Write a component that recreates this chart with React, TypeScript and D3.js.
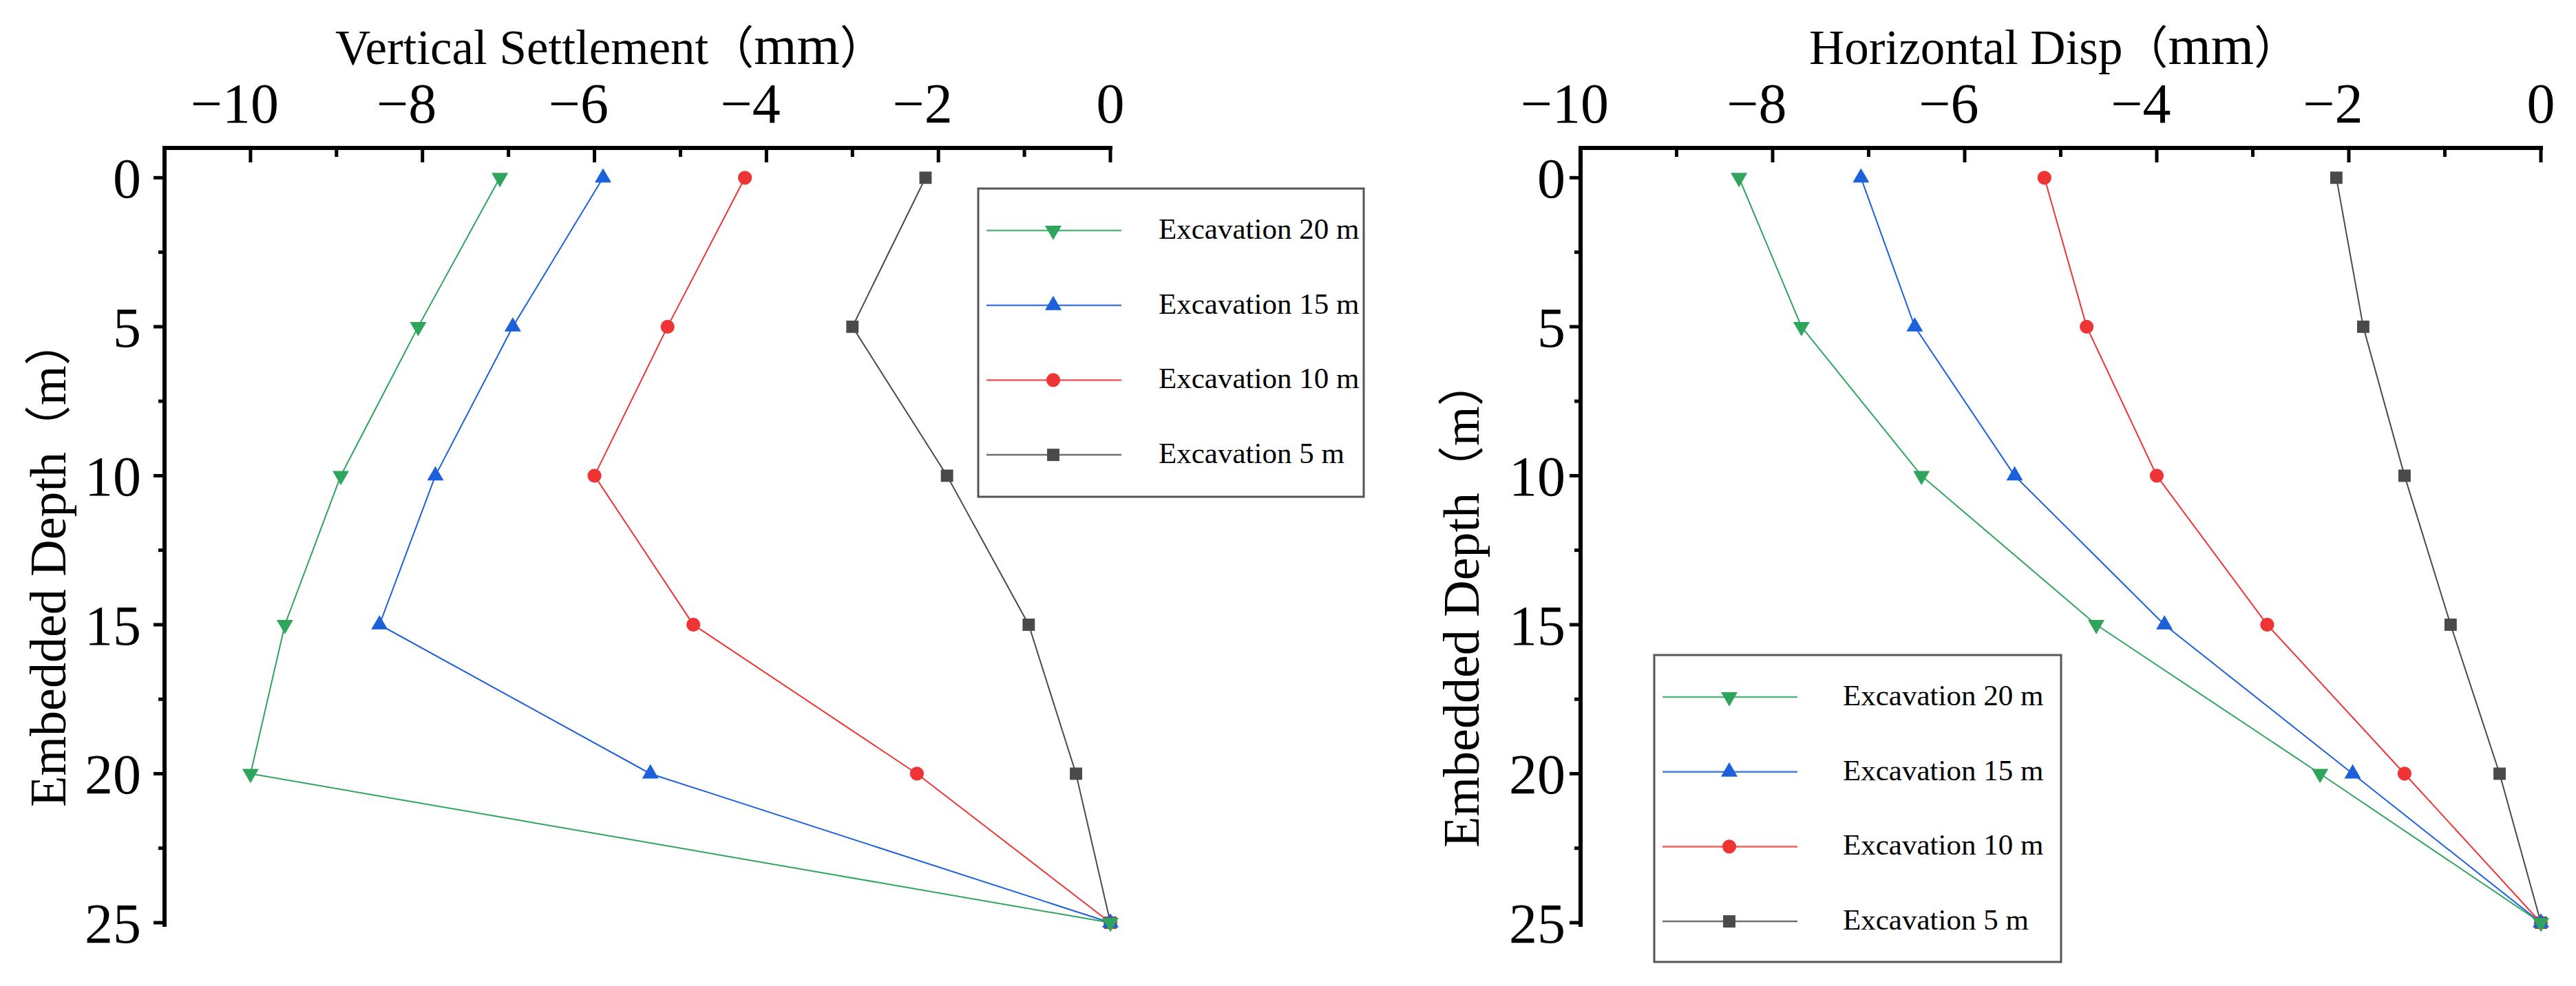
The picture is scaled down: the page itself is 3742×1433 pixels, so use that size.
import * as d3 from 'd3';
import React from 'react';

const depths = [0, 5, 10, 15, 20, 25];

// vertical settlement (mm)
const settle20 = [-7.1, -8.05, -8.95, -9.6, -10.0, 0];
const settle15 = [-5.9, -6.95, -7.85, -8.5, -5.35, 0];
const settle10 = [-4.25, -5.15, -6.0, -4.85, -2.25, 0];
const settle5 = [-2.15, -3.0, -1.9, -0.95, -0.4, 0];

// horizontal displacement (mm)
const disp20 = [-8.35, -7.7, -6.45, -4.63, -2.3, 0];
const disp15 = [-7.08, -6.52, -5.48, -3.92, -1.96, 0];
const disp10 = [-5.17, -4.73, -4.0, -2.85, -1.42, 0];
const disp5 = [-2.13, -1.85, -1.42, -0.94, -0.43, 0];

const seriesNames = ['Excavation 20 m', 'Excavation 15 m', 'Excavation 10 m', 'Excavation 5 m'];
const seriesColors = ['#2fa45c', '#1c60dc', '#ee3434', '#4a4a4a'];
const seriesShapes = ['down', 'up', 'circle', 'square'];

const yMajor = [0, 5, 10, 15, 20, 25];
const yMinor = [2.5, 7.5, 12.5, 17.5, 22.5];

const SERIF = '"Liberation Serif", "Times New Roman", serif';
const CJK = '"Noto Sans CJK SC", sans-serif';

const markerPath = (shape: string) => {
  if (shape === 'circle') return d3.symbol(d3.symbolCircle, 320)();
  if (shape === 'square') return d3.symbol(d3.symbolSquare, 320)();
  return d3.symbol(d3.symbolTriangle, 250)();
};

const Marker = ({ shape, x, y, color }: { shape: string; x: number; y: number; color: string }) => (
  <path
    d={markerPath(shape) || ''}
    transform={`translate(${x},${y})${shape === 'down' ? ' rotate(180)' : ''}`}
    fill={color}
  />
);

type PanelProps = {
  x0: number;
  x1: number;
  xDomain: [number, number];
  title: string;
  titleX: number;
  yTitleX: number;
  yTitleCy: number;
  yLabelGap: number;
  legendBox: [number, number, number, number];
  legendTextDx: number;
  values: number[][];
};

const Panel = ({
  x0,
  x1,
  xDomain,
  title,
  titleX,
  yTitleX,
  yTitleCy,
  yLabelGap,
  legendBox,
  legendTextDx,
  values,
}: PanelProps) => {
  const x = d3.scaleLinear().domain(xDomain).range([x0, x1]);
  const y = d3.scaleLinear().domain([-1, 25]).range([215, 1341]);
  const line = d3
    .line<number>()
    .x((d) => x(d))
    .y((_, i) => y(depths[i]));

  const xMajor = d3.range(-10, 0.1, 2);
  const xMinor = d3.range(Math.ceil(xDomain[0]) + 1, 0, 1).filter((v) => v % 2 !== 0);
  const tickFs = 82;

  const [lx0, ly0, lx1, ly1] = legendBox;
  const rowY = (i: number) => ly0 + 61 + i * 108.7;

  // draw the 5 m series first so that the 20 m series sits on top
  const order = [3, 2, 1, 0];

  return (
    <g>
      {/* axis title */}
      <text x={titleX} y={93} fontFamily={SERIF} fontSize={71} fill="#000">
        {title}
        <tspan fontFamily={CJK} fontSize={66}>（</tspan>
        <tspan fontSize={80}>mm</tspan>
        <tspan fontFamily={CJK} fontSize={66}>）</tspan>
      </text>
      <text
        transform={`translate(${yTitleX},${yTitleCy}) rotate(-90)`}
        textAnchor="middle"
        fontFamily={SERIF}
        fontSize={74}
        fill="#000"
      >
        Embedded Depth
        <tspan fontFamily={CJK} fontSize={68}>（</tspan>
        m
        <tspan fontFamily={CJK} fontSize={68}>）</tspan>
      </text>

      {/* top x axis */}
      <line x1={x0} x2={x1} y1={215} y2={215} stroke="#000" strokeWidth={6} strokeLinecap="square" />
      {xMajor.map((v) => (
        <g key={`xM${v}`}>
          <line x1={x(v)} x2={x(v)} y1={215} y2={236} stroke="#000" strokeWidth={5} />
          <text x={x(v)} y={178} textAnchor="middle" fontFamily={SERIF} fontSize={tickFs}>
            {Math.abs(v)}
          </text>
          {v < 0 && (
            <text
              x={x(v) - String(Math.abs(v)).length * 0.25 * tickFs}
              y={178}
              textAnchor="end"
              fontFamily={SERIF}
              fontSize={tickFs}
            >
              −
            </text>
          )}
        </g>
      ))}
      {xMinor.map((v) => (
        <line key={`xm${v}`} x1={x(v)} x2={x(v)} y1={215} y2={228} stroke="#000" strokeWidth={5} />
      ))}

      {/* left y axis */}
      <line x1={x0} x2={x0} y1={215} y2={y(25) + 3} stroke="#000" strokeWidth={6} strokeLinecap="square" />
      {yMajor.map((v) => (
        <g key={`yM${v}`}>
          <line x1={x0 - 16} x2={x0} y1={y(v)} y2={y(v)} stroke="#000" strokeWidth={5} />
          <text
            x={x0 - yLabelGap}
            y={y(v)}
            dy="0.35em"
            textAnchor="end"
            fontFamily={SERIF}
            fontSize={tickFs}
          >
            {v}
          </text>
        </g>
      ))}
      {yMinor.map((v) => (
        <line key={`ym${v}`} x1={x0 - 9} x2={x0} y1={y(v)} y2={y(v)} stroke="#000" strokeWidth={5} />
      ))}

      {/* series */}
      {order.map((s) => (
        <g key={`s${s}`}>
          <path d={line(values[s]) || ''} fill="none" stroke={seriesColors[s]} strokeWidth={2} />
          {values[s].map((v, i) => (
            <Marker key={i} shape={seriesShapes[s]} x={x(v)} y={y(depths[i])} color={seriesColors[s]} />
          ))}
        </g>
      ))}

      {/* legend */}
      <rect
        x={lx0}
        y={ly0}
        width={lx1 - lx0}
        height={ly1 - ly0}
        fill="#fff"
        stroke="#555"
        strokeWidth={3}
      />
      {seriesNames.map((name, i) => (
        <g key={name}>
          <line
            x1={lx0 + 12}
            x2={lx0 + 208}
            y1={rowY(i)}
            y2={rowY(i)}
            stroke={seriesColors[i]}
            strokeWidth={2.5}
            opacity={0.8}
          />
          <Marker shape={seriesShapes[i]} x={lx0 + 109} y={rowY(i)} color={seriesColors[i]} />
          <text x={lx0 + legendTextDx} y={rowY(i) + 12} fontFamily={SERIF} fontSize={43}>
            {name}
          </text>
        </g>
      ))}
    </g>
  );
};

export default function App() {
  return (
    <div>
      <style>{'body{margin:0;background:#fff}'}</style>
      <svg width={3742} height={1433} viewBox="0 0 3742 1433" style={{ display: 'block' }}>
        <rect width={3742} height={1433} fill="#fff" />
        <Panel
          x0={239}
          x1={1613}
          xDomain={[-11, 0]}
          title="Vertical Settlement"
          titleX={487}
          yTitleX={95}
          yTitleCy={818}
          yLabelGap={34}
          legendBox={[1421, 274, 1981, 722]}
          legendTextDx={262}
          values={[settle20, settle15, settle10, settle5]}
        />
        <Panel
          x0={2296}
          x1={3691}
          xDomain={[-10, 0]}
          title="Horizontal Disp"
          titleX={2628}
          yTitleX={2148}
          yTitleCy={877}
          yLabelGap={22}
          legendBox={[2403, 952, 2994, 1398]}
          legendTextDx={274}
          values={[disp20, disp15, disp10, disp5]}
        />
      </svg>
    </div>
  );
}
